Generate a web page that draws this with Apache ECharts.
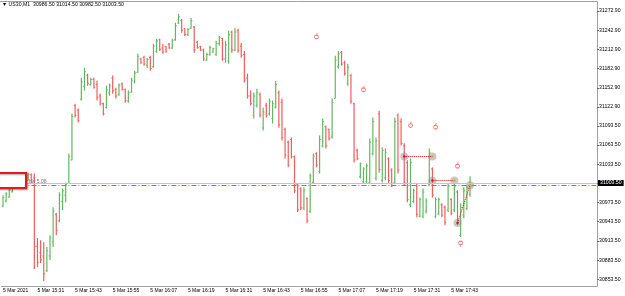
<!DOCTYPE html>
<html>
<head>
<meta charset="utf-8">
<script src="https://cdn.jsdelivr.net/npm/echarts@6/dist/echarts.min.js"></script>
<style>
  html, body { margin: 0; padding: 0; background: #fff; }
  #chart { width: 625px; height: 296px; }
</style>
</head>
<body>
<div id="chart"></div>
<script>
// US30, M1 bars, 5 Mar 2021, from 15:20
var opens = [30968.5,30976,30982,30990,30998,31016,31005,31017,31008,31017,
  31012,30905,30895,30890,30867,30890,30912,30955,30945,30975,
  30985,31003.5,31040,31125,31118,31135,31155,31172,31158,31166,
  31158,31140,31128,31122,31145,31168,31150,31142,31159,31150,
  31132,31146,31162,31177,31198,31200,31188,31200,31186,31210,
  31228,31215,31217,31221,31215,31228,31254,31258,31245,31236,
  31246,31248,31224,31217,31212,31196,31205,31209,31205,31222,
  31230,31198,31195,31240,31212,31242,31218,31205,31168,31140,
  31110,31125,31142,31090,31125,31112,31105,31122,31145,31130,
  31088,31068,31072,31045,31002,30995,30965,30980,30960,31005,
  31050,31022,31062,31092,31088,31076,31136,31186,31208,31192,
  31160,31172,31128,31055,31014,31006,31006,31005,31050,31012,
  31112,31008,31012,31042,31024,31005,31110,31100,31062,31036,
  30970,30975,31000,30952,30952,30960,31002,31026,30952,30956,
  30970,30966,30962,30978,30962,30990,30922,30954,30964,30986.5];
var highs = [30985,30989.5,30995.5,31005,31016,31020.5,31019,31020.5,31020.5,31019,
  31019,30918,30914.5,30911.5,30904,30922.5,30966,30957,30989.5,30995.5,
  31005,31050,31112.5,31128,31120.5,31168.5,31184,31175,31168.5,31168.5,
  31164,31143.5,31129.5,31156,31159.5,31172,31153,31159.5,31161,31151.5,
  31148.5,31168.5,31179.5,31206,31200,31203,31200,31203,31221.5,31229.5,
  31229.5,31221.5,31218.5,31223,31229.5,31254.5,31268.5,31260.5,31246.5,31246.5,
  31262,31249.5,31226.5,31218.5,31214,31207.5,31218.5,31215.5,31226.5,31234,
  31231,31226.5,31242,31242,31246.5,31245,31223,31210.5,31175,31148.5,
  31145.5,31151.5,31145.5,31122,31129.5,31136,31133,31164,31148.5,31136,
  31090.5,31070.5,31075,31047,31003.5,30997.5,30997.5,30981.5,31019,31050,
  31052,31078.5,31105,31094,31089,31136,31203,31210.5,31210.5,31195,
  31190.5,31175,31129.5,31058,31036,31028.5,31034.5,31073.5,31106.5,31075,
  31117,31059.5,31058,31044,31027,31106.5,31112.5,31105,31066,31039.5,
  31042.5,30995.5,31003.5,30981.5,30995.5,30980,31058,31028.5,30981.5,30981.5,
  30972.5,30969,31003.5,30980,31003.5,30992.5,30972.5,30997.5,31000.5,31014.5];
var lows = [30966,30974,30981.5,30989.5,30995.5,31000.5,31003.5,31005,31008,31003.5,
  30869.5,30872.5,30879,30851,30865,30883.5,30904,30922.5,30942.5,30961.5,
  30974,31003.5,31039.5,31106.5,31098.5,31133,31148.5,31156,31156,31151.5,
  31133,31125,31109.5,31120.5,31140.5,31143.5,31136,31140.5,31148.5,31129.5,
  31129.5,31145.5,31159.5,31176.5,31190.5,31187.5,31184,31179.5,31184,31207.5,
  31210.5,31206,31207.5,31214,31214,31226.5,31253,31239,31234,31234,
  31245,31207.5,31214,31210.5,31195,31195,31203,31207.5,31203,31218.5,
  31195,31192,31190.5,31207.5,31210.5,31207.5,31200,31161,31136,31125,
  31105,31122,31106.5,31086,31106.5,31109.5,31097,31120.5,31090.5,31070.5,
  31042.5,31028.5,31042.5,30988,30958.5,30961.5,30961.5,30941,30957,31003.5,
  31028.5,31019,31059.5,31058,31070.5,31073.5,31136,31182.5,31187.5,31172,
  31156,31128,31036,31039.5,31011,31003.5,31003.5,31003.5,31047,31008,
  31020.5,31005,31008,31003.5,30997.5,31003.5,31019,31062.5,31000.5,30974,
  30966,30972.5,30950.5,30950.5,30949,30956.5,31000.5,30981.5,30949,30953.5,
  30950.5,30938,30958.5,30953.5,30958.5,30938,30919.5,30949,30961.5,30982.5];
var closes = [30981.5,30987,30993,31002,31013,31004,31015,31008,31018,31010,
  30905,30880,30884,30862,30898,30918,30960,30930,30985,30992,
  31002,31045,31108,31110,31102,31162,31178,31160,31166,31154,
  31138,31128,31112,31150,31156,31148,31140,31157,31150,31133,
  31145,31165,31176,31202,31192,31190,31197,31183,31218,31226,
  31213,31209,31210,31215,31227,31250,31264,31243,31236,31244,
  31258,31212,31216,31212,31198,31205,31216,31214,31222,31232,
  31198,31220,31236,31212,31240,31212,31203,31165,31140,31128,
  31140,31145,31110,31115,31110,31132,31128,31158,31095,31075,
  31048,31032,31045,30992,30962,30965,30993,30945,31015,31046,
  31032,31072,31100,31062,31074,31130,31196,31206,31190,31175,
  31185,31132,31040,31042,31034,31026,31031,31068,31100,31070,
  31025,31055,31052,31008,31000,31100,31024,31066,31005,30978,
  31036,30992,30955,30978,30990,30976,31052,30985,30978,30978,
  30954,30942,30998,30957,30998,30942,30966,30992,30996,31003.5];

// minute slots on the time axis (bars + empty space to the right)
var slotCount = 190;
var times = [];
for (var k = 0; k < slotCount; k++) {
  var m = 20 + k;
  times.push((15 + Math.floor(m / 60)) + ':' + String(m % 60).padStart(2, '0'));
}

var xTickTimes = ['15:20','15:31','15:43','15:55','16:07','16:19','16:31','16:43','16:55','17:07','17:19','17:31','17:43'];
var xTickText = ['5 Mar 2021','5 Mar 15:31','5 Mar 15:43','5 Mar 15:55','5 Mar 16:07','5 Mar 16:19','5 Mar 16:31',
  '5 Mar 16:43','5 Mar 16:55','5 Mar 17:07','5 Mar 17:19','5 Mar 17:31','5 Mar 17:43'];
var yTickValues = [31272.9,31242.9,31212.9,31182.9,31152.9,31122.9,31093.5,31063.5,31033.5,31003.5,
  30973.5,30943.5,30913.5,30883.5,30853.5];

var bidPrice = 31004;
var levelPrice = 31000.5;

// trades: [bar index, price]
var tradeOpens = [[128, 31045.5], [137, 31008], [145, 30941.5]];
var tradeCloses = [[137, 31045.5], [144, 31008], [149, 31000.5]];
var arrowsUp = [[100, 31234], [115, 31151.5], [130, 31095.5], [138, 31093], [145, 31032]];
var arrowsDown = [[146, 30908.5]];

var FONT = 'Liberation Sans';
var GREEN = '#62b862';
var RED = '#f25c5c';

var bars = opens.map(function (o, i) { return [i, o, highs[i], lows[i], closes[i]]; });

var chart = echarts.init(document.getElementById('chart'));

function renderBar(params, api) {
  var i = api.value(0);
  var hi = api.coord([i, api.value(2)]);
  var lo = api.coord([i, api.value(3)]);
  var oy = api.coord([i, api.value(1)])[1];
  var cy = api.coord([i, api.value(4)])[1];
  var c = api.value(4) >= api.value(1) ? GREEN : RED;
  var x = hi[0];
  return {
    type: 'group',
    children: [
      { type: 'line', shape: { x1: x, y1: hi[1], x2: x, y2: lo[1] }, style: { stroke: c, lineWidth: 1.2 } },
      { type: 'line', shape: { x1: x - 1.3, y1: oy, x2: x, y2: oy }, style: { stroke: c, lineWidth: 1 } },
      { type: 'line', shape: { x1: x, y1: cy, x2: x + 1.3, y2: cy }, style: { stroke: c, lineWidth: 1 } }
    ]
  };
}

var last = bars.length - 1;
var header = '\u25BC US30,M1  ' + opens[last].toFixed(2) + ' ' + highs[last].toFixed(2) + ' ' +
  lows[last].toFixed(2) + ' ' + closes[last].toFixed(2);

chart.setOption({
  animation: false,
  backgroundColor: '#fff',
  grid: { left: 0, right: 28, top: 2, bottom: 10 },
  xAxis: {
    type: 'category',
    data: times,
    boundaryGap: true,
    axisLine: { lineStyle: { color: '#a0a0a0', width: 1 } },
    axisTick: {
      alignWithLabel: true,
      length: 3,
      interval: function (idx, val) { return xTickTimes.indexOf(val) >= 0; },
      lineStyle: { color: '#666' }
    },
    axisLabel: {
      interval: function (idx, val) { return xTickTimes.indexOf(val) >= 0; },
      formatter: function (val) { var j = xTickTimes.indexOf(val); return j >= 0 ? xTickText[j] : ''; },
      align: 'left',
      margin: 2,
      fontSize: 5,
      fontFamily: FONT,
      color: '#000'
    },
    splitLine: { show: false }
  },
  yAxis: {
    type: 'value',
    position: 'right',
    min: 30843,
    max: 31287,
    splitLine: { show: false },
    axisLine: { show: true, lineStyle: { color: '#a0a0a0', width: 1 } },
    axisTick: { show: true, length: 2, customValues: yTickValues, lineStyle: { color: '#666' } },
    axisLabel: {
      customValues: yTickValues,
      formatter: function (v) { return v.toFixed(2); },
      margin: 2,
      fontSize: 5.2,
      fontFamily: FONT,
      color: '#000'
    }
  },
  graphic: [
    { type: 'line', shape: { x1: 0, y1: 1.5, x2: 597, y2: 1.5 }, style: { stroke: '#a0a0a0', lineWidth: 1 }, z: 50 },
    { type: 'text', left: 2, top: 2, style: { text: header, fontSize: 5.2, fontFamily: FONT, fill: '#000' }, z: 50 },
    { type: 'text', left: 29, top: 179.5, style: { text: 'hw 5.08', fontSize: 5, fontFamily: FONT, fill: '#777' }, z: 50 },
    {
      type: 'rect', shape: { x: -3, y: 173, width: 29, height: 15 },
      style: { fill: '#fff', stroke: '#e31b1b', lineWidth: 2, shadowBlur: 2, shadowOffsetX: 1, shadowOffsetY: 1, shadowColor: 'rgba(0,0,0,0.35)' },
      z: 100
    }
  ],
  series: [
    {
      type: 'custom',
      renderItem: renderBar,
      data: bars,
      encode: { x: 0, y: [1, 2, 3, 4] },
      z: 2
    },
    {
      type: 'scatter',
      data: tradeOpens.concat(tradeCloses),
      symbol: 'circle',
      symbolSize: 8,
      itemStyle: { color: 'rgba(140,140,140,0.6)' },
      z: 4,
      markLine: {
        silent: true,
        symbol: 'none',
        data: [
          {
            yAxis: bidPrice,
            lineStyle: { color: '#c4c4c4', type: 'solid', width: 1 },
            label: {
              show: true, position: 'end', formatter: closes[last].toFixed(2), distance: 1,
              backgroundColor: '#000', color: '#fff', fontSize: 5.2, fontFamily: FONT, padding: [1, 2, 0, 2]
            }
          },
          {
            yAxis: levelPrice,
            lineStyle: { color: '#3ea83e', type: [5, 2, 1, 2], width: 1 },
            label: { show: false }
          }
        ]
      }
    },
    {
      type: 'scatter',
      data: tradeOpens,
      symbol: 'circle',
      symbolSize: 2.5,
      itemStyle: { color: '#e00000' },
      z: 5,
      markLine: {
        silent: true,
        symbol: 'none',
        label: { show: false },
        lineStyle: { color: '#e00000', type: 'dotted', width: 1 },
        data: tradeOpens.map(function (p, j) { return [{ coord: p }, { coord: tradeCloses[j] }]; })
      }
    },
    {
      type: 'scatter',
      data: tradeCloses,
      symbol: 'circle',
      symbolSize: 2.5,
      itemStyle: { color: '#f0a000' },
      z: 5
    },
    {
      type: 'scatter',
      data: arrowsUp,
      symbol: 'path://M4,0 L3,3 M3,5.5 m-2.5,0 a2.5,2.5 0 1,0 5,0 a2.5,2.5 0 1,0 -5,0',
      symbolSize: [4, 6],
      itemStyle: { color: 'none', borderColor: '#f05050', borderWidth: 0.9 },
      z: 5
    },
    {
      type: 'scatter',
      data: arrowsDown,
      symbol: 'path://M3,2.5 m-2.5,0 a2.5,2.5 0 1,0 5,0 a2.5,2.5 0 1,0 -5,0 M3,5 L3,8',
      symbolSize: [4, 6],
      itemStyle: { color: 'none', borderColor: '#f05050', borderWidth: 0.9 },
      z: 5
    }
  ]
});
</script>
</body>
</html>
